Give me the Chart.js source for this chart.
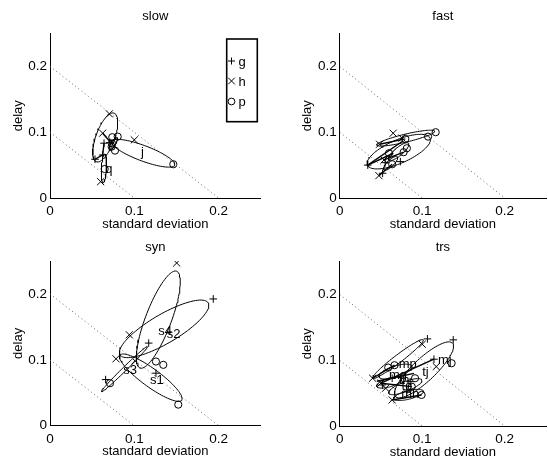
<!DOCTYPE html>
<html>
<head>
<meta charset="utf-8">
<script src="https://cdn.jsdelivr.net/npm/chart.js@4/dist/chart.umd.min.js"></script>
<style>
  body { margin: 0; background: #fff; }
  #wrap { position: relative; width: 548px; height: 464px; overflow: hidden; }
  #wrap canvas { position: absolute; left: 0; top: 0; }
</style>
</head>
<body>
<div id="wrap">
  <canvas id="p0" width="552" height="464"></canvas>
  <canvas id="p1" width="552" height="464"></canvas>
  <canvas id="p2" width="552" height="464"></canvas>
  <canvas id="p3" width="552" height="464"></canvas>
</div>
<script>
// axes
const xTicks = [0, 0.1, 0.2];
const yTicks = [0, 0.1, 0.2];
const axisMax = 0.25;
const panelTitles = ['slow', 'fast', 'syn', 'trs'];
const legendLabels = ['g', 'h', 'p'];
// dotted guide lines x + y = const, as [x1, y1, x2, y2]
const refLines = [[0, 0.1, 0.1, 0], [0, 0.2, 0.2, 0]];

// points are [std, delay]; ellipses [cx, cy, ax, ay, bx, by]; labels [text, x, y]
const slowG = [[0.0534, 0.0589], [0.0625, 0.0654], [0.0641, 0.0833], [0.0712, 0.0842]];
const slowH = [[0.0704, 0.1279], [0.0625, 0.0985], [0.100, 0.0883], [0.0601, 0.0248]];
const slowP = [[0.0803, 0.0933], [0.0739, 0.0924], [0.1463, 0.0513], [0.0649, 0.0441],
               [0.0771, 0.072], [0.0732, 0.0781], [0.0735, 0.083]];
const slowEllipses = [[0.0655, 0.092, 0.0105, 0.037, -0.0105, 0.0045],
                      [0.064, 0.045, 0.001, 0.022, 0.003, 0],
                      [0.1105, 0.068, 0.0375, -0.018, 0.0031, 0.011],
                      [0.075, 0.082, 0.004, 0.010, 0.003, 0]];
const slowSegments = [[0.0534, 0.0589, 0.0625, 0.0654], [0.0625, 0.0985, 0.075, 0.080],
                      [0.0625, 0.0654, 0.0641, 0.0833]];
const slowLabels = [['j', 0.108, 0.070], ['q', 0.0655, 0.044]];

const fastG = [[0.034, 0.050], [0.0551, 0.0537], [0.052, 0.0376], [0.0735, 0.0553]];
const fastH = [[0.0648, 0.0985], [0.0483, 0.0817], [0.0475, 0.034], [0.0755, 0.091], [0.0537, 0.0578]];
const fastP = [[0.1163, 0.100], [0.1071, 0.0933], [0.0795, 0.0898], [0.0814, 0.0756],
               [0.0597, 0.068], [0.0775, 0.0696], [0.0636, 0.0513]];
const fastEllipses = [[0.0715, 0.0705, 0.038, 0.0205, -0.0052, 0.0165],
                      [0.080, 0.091, 0.035, 0.0105, -0.0011, 0.0059],
                      [0.0715, 0.0705, 0.0119, 0.0127, -0.003, 0.0047],
                      [0.0617, 0.0528, 0.008, 0.010, -0.003, 0.003]];
const fastSegments = [[0.034, 0.050, 0.077, 0.087], [0.034, 0.050, 0.065, 0.068],
                      [0.0483, 0.0817, 0.0795, 0.0898], [0.0475, 0.034, 0.0636, 0.0513],
                      [0.0537, 0.0578, 0.0775, 0.0696]];
const fastLabels = [];

const synG = [[0.1937, 0.1924], [0.1171, 0.1254], [0.1257, 0.0797], [0.066, 0.070]];
const synH = [[0.1503, 0.247], [0.0941, 0.138], [0.0783, 0.1015], [0.1008, 0.0985]];
const synP = [[0.1257, 0.0974], [0.1344, 0.0924], [0.0712, 0.0645], [0.1522, 0.032]];
const synEllipses = [[0.1285, 0.161, 0.0218, 0.0735, -0.0143, 0.0070],
                     [0.1354, 0.147, 0.0524, 0.0394, -0.0087, 0.0189],
                     [0.1196, 0.0729, 0.0366, -0.0342, 0.0063, 0.0111],
                     [0.0884, 0.0859, 0.0271, 0.0341, -0.0017, 0.0021]];
const synSegments = [];
const synLabels = [['s4', 0.1285, 0.143], ['s2', 0.1384, 0.139], ['s3', 0.087, 0.0838], ['s1', 0.1186, 0.0686]];

const trsG = [[0.1063, 0.1324], [0.1376, 0.1309], [0.1142, 0.1015], [0.0517, 0.0624],
              [0.0636, 0.0726], [0.0854, 0.0674], [0.0814, 0.0548]];
const trsH = [[0.100, 0.1243], [0.117, 0.0903], [0.0399, 0.0726], [0.0636, 0.0396],
              [0.0498, 0.065], [0.0557, 0.0574]];
const trsP = [[0.1356, 0.0954], [0.0588, 0.0888], [0.0913, 0.0726], [0.0873, 0.0598],
              [0.0992, 0.0472], [0.0664, 0.0924]];
const trsEllipses = [[0.1022, 0.0853, 0.0346, 0.0406, -0.0092, 0.0128],
                     [0.0706, 0.1018, 0.0306, 0.0292, -0.0028, 0.0049],
                     [0.0676, 0.0827, 0.020, 0.008, -0.002, 0.008],
                     [0.0795, 0.0598, 0.020, 0.010, -0.002, 0.007],
                     [0.060, 0.066, 0.015, 0.006, -0.002, 0.006],
                     [0.0834, 0.0472, 0.018, 0.006, -0.002, 0.006]];
const trsSegments = [[0.045, 0.068, 0.090, 0.080], [0.050, 0.065, 0.1142, 0.1015],
                     [0.0636, 0.0396, 0.0992, 0.0472], [0.0498, 0.065, 0.0873, 0.0598],
                     [0.0399, 0.0726, 0.0664, 0.0924]];
const trsLabels = [['mp', 0.0715, 0.0935], ['mj', 0.119, 0.100], ['tj', 0.100, 0.081],
                   ['mg', 0.0597, 0.077], ['th', 0.0715, 0.0697], ['tg', 0.075, 0.0595],
                   ['mh', 0.0745, 0.0485]];

// page layout: chart area [left, top, right, bottom], title y
const panelAreas = [[50, 33.5, 260.7, 198], [339.7, 33.5, 550.4, 198],
                    [50, 261, 260.7, 425.7], [339.7, 261.5, 550.4, 426]];
const titleY = [16.7, 16.7, 247, 247];

const FONT = '"Liberation Sans", Arial, Helvetica, sans-serif';
Chart.defaults.font.family = FONT;
Chart.defaults.font.size = 13;
Chart.defaults.color = '#000';

const toXY = p => ({ x: p[0], y: p[1] });

function ellipsePts(e) {
  const [cx, cy, ax, ay, bx, by] = e;
  const pts = [];
  for (let i = 0; i <= 90; i++) {
    const t = i / 90 * 2 * Math.PI;
    pts.push({ x: cx + ax * Math.cos(t) + bx * Math.sin(t), y: cy + ay * Math.cos(t) + by * Math.sin(t) });
  }
  return pts;
}

function buildDatasets(g, h, p, ells, segs) {
  const ds = [];
  refLines.forEach(r => ds.push({
    data: [{ x: r[0], y: r[1] }, { x: r[2], y: r[3] }], showLine: true,
    borderColor: '#666', borderWidth: 1, borderDash: [1, 3], pointRadius: 0
  }));
  ells.forEach(e => ds.push({
    data: ellipsePts(e), showLine: true, borderColor: '#000', borderWidth: 1, pointRadius: 0
  }));
  segs.forEach(s => ds.push({
    data: [{ x: s[0], y: s[1] }, { x: s[2], y: s[3] }], showLine: true,
    borderColor: '#000', borderWidth: 1.4, pointRadius: 0
  }));
  ds.push({ data: g.map(toXY), pointStyle: 'cross', pointRadius: 3.8, borderColor: '#000', borderWidth: 1, backgroundColor: 'transparent' });
  ds.push({ data: h.map(toXY), pointStyle: 'crossRot', pointRadius: 5, borderColor: '#000', borderWidth: 1, backgroundColor: 'transparent' });
  ds.push({ data: p.map(toXY), pointStyle: 'circle', pointRadius: 3.6, borderColor: '#000', borderWidth: 1, backgroundColor: 'transparent' });
  return ds;
}

const panelText = {
  id: 'panelText',
  afterDatasetsDraw(chart, args, opts) {
    const { ctx, chartArea, scales: { x, y } } = chart;
    ctx.save();
    ctx.fillStyle = '#000';
    ctx.font = '13px ' + FONT;
    ctx.textBaseline = 'middle';
    ctx.textAlign = 'center';
    ctx.fillText(opts.title, (chartArea.left + chartArea.right) / 2, opts.titleY);
    ctx.textAlign = 'left';
    opts.labels.forEach(l => ctx.fillText(l[0], x.getPixelForValue(l[1]), y.getPixelForValue(l[2])));
    if (opts.legend) {
      const L = 226.7, T = 39, R = 257.3, B = 121.7;
      ctx.fillStyle = '#fff';
      ctx.fillRect(L, T, R - L, B - T);
      ctx.strokeStyle = '#000';
      ctx.lineWidth = 1.6;
      ctx.strokeRect(L, T, R - L, B - T);
      ctx.lineWidth = 1;
      const rows = [61, 81, 101.5];
      const mx = 231.5;
      ctx.beginPath();
      ctx.moveTo(mx - 3.5, rows[0]); ctx.lineTo(mx + 3.5, rows[0]);
      ctx.moveTo(mx, rows[0] - 3.5); ctx.lineTo(mx, rows[0] + 3.5);
      ctx.moveTo(mx - 3.3, rows[1] - 3.3); ctx.lineTo(mx + 3.3, rows[1] + 3.3);
      ctx.moveTo(mx - 3.3, rows[1] + 3.3); ctx.lineTo(mx + 3.3, rows[1] - 3.3);
      ctx.stroke();
      ctx.beginPath();
      ctx.arc(mx, rows[2], 3.4, 0, 2 * Math.PI);
      ctx.stroke();
      ctx.fillStyle = '#000';
      legendLabels.forEach((t, i) => ctx.fillText(t, 238.5, rows[i] + 1));
    }
    ctx.restore();
  }
};

const W_Y = 39.8, H_X = 33.8;

function makePanel(idx, g, h, p, ells, segs, labels) {
  const [L, T, R, B] = panelAreas[idx];
  return new Chart(document.getElementById('p' + idx), {
    type: 'scatter',
    data: { datasets: buildDatasets(g, h, p, ells, segs) },
    plugins: [panelText],
    options: {
      responsive: false,
      animation: false,
      events: [],
      layout: { padding: { left: L - W_Y, top: T, right: 552 - R, bottom: 464 - B - H_X } },
      plugins: {
        legend: { display: false },
        tooltip: { enabled: false },
        panelText: { title: panelTitles[idx], titleY: titleY[idx], labels: labels, legend: idx === 0 }
      },
      scales: {
        x: {
          type: 'linear', min: 0, max: axisMax,
          grid: { display: false, drawTicks: false },
          border: { display: true, color: '#000', width: 1 },
          ticks: { padding: 5, font: { size: 13.5 }, color: '#000', callback: v => String(v) },
          afterBuildTicks: s => { s.ticks = xTicks.map(v => ({ value: v })); },
          afterFit: s => { s.height = H_X; },
          title: { display: true, text: 'standard deviation', font: { size: 13 }, padding: 0, color: '#000' }
        },
        y: {
          type: 'linear', min: 0, max: axisMax,
          grid: { display: false, drawTicks: false },
          border: { display: true, color: '#000', width: 1 },
          ticks: { padding: 3, font: { size: 13.5 }, color: '#000', callback: v => String(v) },
          afterBuildTicks: s => { s.ticks = yTicks.map(v => ({ value: v })); },
          afterFit: s => { s.width = W_Y; },
          title: { display: true, text: 'delay', font: { size: 13 }, padding: 0, color: '#000' }
        }
      }
    }
  });
}

makePanel(0, slowG, slowH, slowP, slowEllipses, slowSegments, slowLabels);
makePanel(1, fastG, fastH, fastP, fastEllipses, fastSegments, fastLabels);
makePanel(2, synG, synH, synP, synEllipses, synSegments, synLabels);
makePanel(3, trsG, trsH, trsP, trsEllipses, trsSegments, trsLabels);
</script>
</body>
</html>
